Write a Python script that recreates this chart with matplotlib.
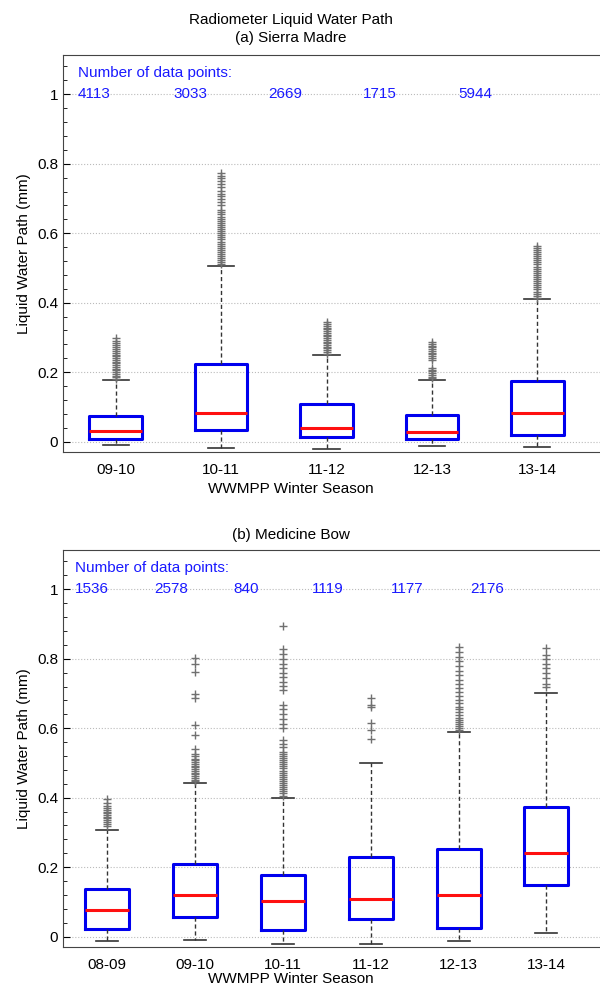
import matplotlib
matplotlib.use("Agg")
import matplotlib.pyplot as plt
import matplotlib.transforms as mtrans
from matplotlib.ticker import MultipleLocator, FixedLocator

plt.rcParams['font.family'] = ['Liberation Sans', 'DejaVu Sans']

# ---------------- (a) Sierra Madre ----------------
seasons_a = ["09-10", "10-11", "11-12", "12-13", "13-14"]
counts_a = ["4113", "3033", "2669", "1715", "5944"]
q1_a = [0.008, 0.032, 0.014, 0.006, 0.018]
med_a = [0.031, 0.083, 0.038, 0.029, 0.081]
q3_a = [0.075, 0.222, 0.107, 0.076, 0.174]
wlo_a = [-0.009, -0.018, -0.020, -0.012, -0.016]
whi_a = [0.176, 0.506, 0.249, 0.178, 0.410]
fl_a1 = [0.180, 0.185, 0.190, 0.195, 0.200, 0.205, 0.210, 0.215, 0.220, 0.225,
         0.230, 0.235, 0.240, 0.245, 0.250, 0.255, 0.260, 0.266, 0.272, 0.279,
         0.285, 0.291, 0.298]
fl_a2 = [0.510, 0.516, 0.522, 0.528, 0.534, 0.540, 0.546, 0.552, 0.558, 0.564,
         0.570, 0.576, 0.582, 0.588, 0.594, 0.600, 0.606, 0.612, 0.618, 0.624,
         0.630, 0.636, 0.642, 0.648, 0.654, 0.660, 0.667, 0.680, 0.690, 0.698,
         0.706, 0.714, 0.722, 0.733, 0.742, 0.750, 0.758, 0.765, 0.772]
fl_a3 = [0.253, 0.258, 0.263, 0.268, 0.273, 0.278, 0.283, 0.288, 0.293, 0.298,
         0.303, 0.308, 0.313, 0.318, 0.323, 0.328, 0.333, 0.338, 0.343]
fl_a4 = [0.182, 0.187, 0.192, 0.197, 0.202, 0.207, 0.213, 0.236, 0.241, 0.246,
         0.251, 0.256, 0.261, 0.266, 0.271, 0.276, 0.281, 0.287]
fl_a5 = [0.414, 0.420, 0.426, 0.432, 0.438, 0.444, 0.450, 0.456, 0.462, 0.468,
         0.474, 0.480, 0.486, 0.492, 0.498, 0.504, 0.510, 0.516, 0.522, 0.528,
         0.534, 0.540, 0.546, 0.552, 0.557, 0.563]
fliers_a = [fl_a1, fl_a2, fl_a3, fl_a4, fl_a5]

# ---------------- (b) Medicine Bow ----------------
seasons_b = ["08-09", "09-10", "10-11", "11-12", "12-13", "13-14"]
counts_b = ["1536", "2578", "840", "1119", "1177", "2176"]
q1_b = [0.021, 0.056, 0.019, 0.050, 0.026, 0.149]
med_b = [0.077, 0.121, 0.102, 0.108, 0.121, 0.242]
q3_b = [0.136, 0.209, 0.176, 0.230, 0.251, 0.374]
wlo_b = [-0.012, -0.009, -0.020, -0.020, -0.012, 0.009]
whi_b = [0.308, 0.442, 0.398, 0.500, 0.589, 0.702]
fl_b1 = [0.318, 0.325, 0.330, 0.335, 0.340, 0.345, 0.350, 0.355, 0.360, 0.365,
         0.370, 0.377, 0.385, 0.397]
fl_b2 = [0.447, 0.452, 0.457, 0.462, 0.467, 0.472, 0.477, 0.482, 0.487, 0.492,
         0.497, 0.502, 0.507, 0.512, 0.520, 0.527, 0.541, 0.581, 0.608, 0.687,
         0.697, 0.762, 0.786, 0.802]
fl_b3 = [0.405, 0.412, 0.418, 0.424, 0.430, 0.436, 0.442, 0.448, 0.454, 0.460,
         0.466, 0.472, 0.478, 0.484, 0.490, 0.496, 0.502, 0.508, 0.514, 0.520,
         0.526, 0.531, 0.545, 0.555, 0.565, 0.601, 0.613, 0.627, 0.642, 0.654,
         0.666, 0.709, 0.721, 0.733, 0.746, 0.759, 0.772, 0.786, 0.800, 0.815,
         0.827, 0.893]
fl_b4 = [0.568, 0.594, 0.615, 0.661, 0.667, 0.687]
fl_b5 = [0.594, 0.600, 0.606, 0.612, 0.618, 0.624, 0.630, 0.638, 0.646, 0.654,
         0.662, 0.672, 0.682, 0.692, 0.704, 0.716, 0.728, 0.740, 0.752, 0.764,
         0.778, 0.792, 0.806, 0.820, 0.834]
fl_b6 = [0.719, 0.728, 0.745, 0.758, 0.772, 0.786, 0.799, 0.812, 0.832]
fliers_b = [fl_b1, fl_b2, fl_b3, fl_b4, fl_b5, fl_b6]

BLUE_TXT = "#1a1aff"
FS = 11


def make_stats(q1, med, q3, wlo, whi, fliers):
    return [dict(q1=a, med=b, q3=c, whislo=d, whishi=e, fliers=f)
            for a, b, c, d, e, f in zip(q1, med, q3, wlo, whi, fliers)]


def draw_panel(ax, stats, seasons, counts, xmax, x0, dx):
    pos = list(range(1, len(stats) + 1))
    ax.bxp(stats, positions=pos, widths=0.5, showfliers=True,
           boxprops=dict(color="#0000ee", linewidth=2.2),
           medianprops=dict(color="#ff1010", linewidth=2.2),
           whiskerprops=dict(color="#333333", linewidth=1.0, linestyle=(0, (3, 2))),
           capprops=dict(color="#333333", linewidth=1.2),
           flierprops=dict(marker="+", markeredgecolor="#707070",
                           markersize=6, markeredgewidth=1.0, linestyle="none"))
    ax.set_xlim(0.5, xmax)
    ax.set_ylim(-0.03, 1.113)
    ax.set_xticks(pos)
    ax.set_xticklabels(seasons, fontsize=FS)
    ax.tick_params(axis="x", length=0, pad=8)
    ax.yaxis.set_major_locator(FixedLocator([0, 0.2, 0.4, 0.6, 0.8, 1.0]))
    ax.set_yticklabels(["0", "0.2", "0.4", "0.6", "0.8", "1"], fontsize=FS)
    ax.yaxis.set_minor_locator(MultipleLocator(0.04))
    ax.tick_params(axis="y", which="major", direction="in", length=5)
    ax.tick_params(axis="y", which="minor", direction="in", length=3)
    ax.grid(axis="y", which="major", linestyle=":", color="#bbbbbb", linewidth=0.8)
    ax.set_axisbelow(True)
    ax.spines["right"].set_visible(False)
    for s in ["left", "bottom", "top"]:
        ax.spines[s].set_color("#444444")
    ax.set_ylabel("Liquid Water Path (mm)", fontsize=FS)

    tr = mtrans.blended_transform_factory(ax.transAxes, ax.transData)
    ax.text(x0, 1.062, "Number of data points:", color=BLUE_TXT, fontsize=FS,
            transform=tr, ha="left", va="center")
    for i, c in enumerate(counts):
        ax.text(x0 + i * dx, 1.0, c, color=BLUE_TXT, fontsize=FS,
                transform=tr, ha="left", va="center")


fig = plt.figure(figsize=(6.0, 9.86), dpi=100)
ax1 = fig.add_axes([0.105, 1 - 452 / 986, 0.895, (452 - 55) / 986])
ax2 = fig.add_axes([0.105, 1 - 947 / 986, 0.895, (947 - 550) / 986])

draw_panel(ax1, make_stats(q1_a, med_a, q3_a, wlo_a, whi_a, fliers_a),
           seasons_a, counts_a, 0.5 + 537 / 105.4, 15 / 537, 95 / 537)
draw_panel(ax2, make_stats(q1_b, med_b, q3_b, wlo_b, whi_b, fliers_b),
           seasons_b, counts_b, 0.5 + 537 / 87.9, 12 / 537, 79 / 537)

# titles and x labels centred at x ~ 291 px
xc = 291 / 600
fig.text(xc, 1 - 20 / 986, "Radiometer Liquid Water Path", ha="center", va="center", fontsize=FS)
fig.text(xc, 1 - 38 / 986, "(a) Sierra Madre", ha="center", va="center", fontsize=FS)
fig.text(xc, 1 - 535 / 986, "(b) Medicine Bow", ha="center", va="center", fontsize=FS)
fig.text(xc, 1 - 489 / 986, "WWMPP Winter Season", ha="center", va="center", fontsize=FS)
fig.text(xc, 1 - 979 / 986, "WWMPP Winter Season", ha="center", va="center", fontsize=FS)

fig.savefig("out.png", dpi=100)
